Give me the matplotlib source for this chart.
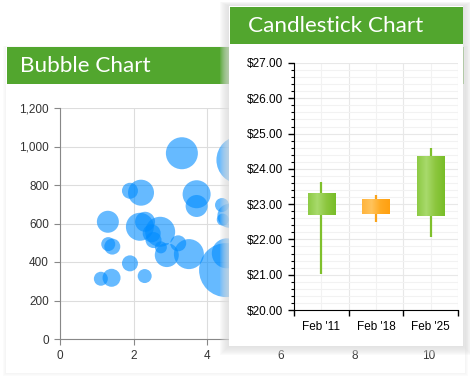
import numpy as np
import matplotlib
matplotlib.use("Agg")
import matplotlib.pyplot as plt
from matplotlib.patches import Rectangle
from matplotlib.colors import LinearSegmentedColormap
from matplotlib.ticker import FuncFormatter

# bubble chart data (x, y, bubble size)
bubble_x = [3.31, 4.90, 3.71, 3.71, 2.20, 1.90, 1.30, 1.31, 1.42, 1.90, 1.11, 1.40, 2.30,
            2.17, 2.31, 2.72, 2.49, 2.54, 2.74, 2.90, 3.21, 3.50, 4.51, 4.40, 4.42, 4.60, 4.53]
bubble_y = [965, 930, 752, 691, 760, 770, 609, 493, 480, 393, 313, 318, 327,
            583, 609, 557, 549, 514, 476, 436, 497, 441, 358, 696, 620, 640, 445]
bubble_size = [16, 24, 14, 11, 13, 8, 11, 7, 8, 8, 7, 9, 7,
               14, 10, 15, 9, 8, 6, 12, 8, 15, 27, 7, 6, 12, 15]

# candlestick data
candle_dates = ["Feb '11", "Feb '18", "Feb '25"]
candle_open = [22.70, 23.14, 22.67]
candle_close = [23.32, 22.73, 24.36]
candle_high = [23.63, 23.27, 24.59]
candle_low = [21.02, 22.50, 22.07]

W, H = 470, 380
GREEN = '#52a62e'
font = 'Liberation Sans'


def box(x0, y0, x1, y1):
    # pixel box -> figure rect
    return [x0 / W, 1 - y1 / H, (x1 - x0) / W, (y1 - y0) / H]


def rect(x0, y0, x1, y1, color, z, alpha=1.0):
    r = Rectangle((x0 / W, 1 - y1 / H), (x1 - x0) / W, (y1 - y0) / H,
                  transform=fig.transFigure, facecolor=color, edgecolor='none',
                  alpha=alpha, zorder=z)
    fig.add_artist(r)


def shadow(x0, y0, x1, y1, z, n=8, color='#dcdcdc', a=0.12):
    for i in range(n, 0, -1):
        rect(x0 - i, y0 - i * 0.5, x1 + i, y1 + i, color, z, a)


fig = plt.figure(figsize=(4.7, 3.8), dpi=100)
fig.patch.set_facecolor('white')

# ---- bubble panel ----
shadow(6, 47, 465, 373, 0.4, n=3, a=0.09)
rect(6, 47, 465, 373, 'white', 0.5)
rect(7, 47, 464, 84, GREEN, 0.6)
fig.text(20 / W, 1 - 66 / H, 'Bubble Chart', color='white', fontsize=16.2,
         family='Lato', va='center', ha='left', zorder=0.7)

ax1 = fig.add_axes(box(60, 108, 454, 339))
ax1.set_zorder(1)
ax1.set_facecolor('none')
s = [(1.44 * r) ** 2 for r in bubble_size]
ax1.scatter(bubble_x, bubble_y, s=s, color='#008cff', alpha=0.6, edgecolors='none', zorder=3)
ax1.set_xlim(0, 10.7)
ax1.set_ylim(0, 1200)
ax1.set_xticks(range(0, 11, 2))
ax1.set_yticks(range(0, 1201, 200))
ax1.yaxis.set_major_formatter(FuncFormatter(lambda v, p: f'{int(v):,}'))
ax1.grid(True, color='#dddddd', lw=0.8)
ax1.set_axisbelow(True)
for sp in ['top', 'right']:
    ax1.spines[sp].set_visible(False)
for sp in ['left', 'bottom']:
    ax1.spines[sp].set_color('#888888')
ax1.tick_params(colors='#888888', length=4, labelcolor='#333333', labelsize=8.5, pad=4)
for lab in ax1.get_xticklabels() + ax1.get_yticklabels():
    lab.set_family(font)

# ---- candlestick panel ----
shadow(229, 6, 463, 346, 2, n=9, a=0.13)
rect(229, 6, 463, 346, 'white', 2.1)
rect(230, 7, 463, 44, GREEN, 2.2)
fig.text(248 / W, 1 - 26 / H, 'Candlestick Chart', color='white', fontsize=16.2,
         family='Lato', va='center', ha='left', zorder=2.3)

ax2 = fig.add_axes(box(294, 63, 458, 310))
ax2.set_zorder(3)
ax2.set_facecolor('white')
ax2.set_xlim(-0.5, 2.5)
ax2.set_ylim(20, 27)

green_cm = LinearSegmentedColormap.from_list('g', ['#8dca44', '#a8da6c', '#8cc63e', '#78bd28'])
orange_cm = LinearSegmentedColormap.from_list('o', ['#ffb43c', '#ffc35c', '#ffaa22', '#ffa010'])
grad = np.linspace(0, 1, 64).reshape(1, -1)

for i, (o, c, h, l) in enumerate(zip(candle_open, candle_close, candle_high, candle_low)):
    up = c >= o
    wick = '#7fc02c' if up else '#f9a31b'
    ax2.vlines(i, l, h, color=wick, lw=1.6, zorder=3)
    ax2.imshow(grad, cmap=green_cm if up else orange_cm, aspect='auto',
               extent=(i - 0.25, i + 0.25, min(o, c), max(o, c)), zorder=4)

ax2.set_xlim(-0.5, 2.5)
ax2.set_ylim(20, 27)
ax2.set_xticks([-0.5, 0.5, 1.5, 2.5])
ax2.set_xticklabels([])
ax2.set_xticks(range(len(candle_dates)), minor=True)
ax2.set_xticklabels(candle_dates, minor=True)
ax2.set_yticks(np.arange(20, 27.01, 1))
ax2.set_yticks(np.arange(20, 27.01, 0.2), minor=True)
ax2.yaxis.set_major_formatter(FuncFormatter(lambda v, p: f'${v:.2f}'))
ax2.grid(True, which='major', color='#e8e8e8', lw=0.8)
ax2.grid(True, which='minor', color='#f2f2f2', lw=0.8)
ax2.set_axisbelow(True)
for sp in ['top', 'right']:
    ax2.spines[sp].set_visible(False)
ax2.tick_params(axis='y', which='major', length=4, width=1, labelsize=8.5, pad=4)
ax2.tick_params(axis='y', which='minor', length=2.5, width=0.8)
ax2.tick_params(axis='x', which='major', length=4, width=1)
ax2.tick_params(axis='x', which='minor', length=0, labelsize=8.5, pad=8)
for lab in ax2.get_xticklabels(minor=True) + ax2.get_yticklabels():
    lab.set_family(font)

fig.savefig('out.png', dpi=100)
